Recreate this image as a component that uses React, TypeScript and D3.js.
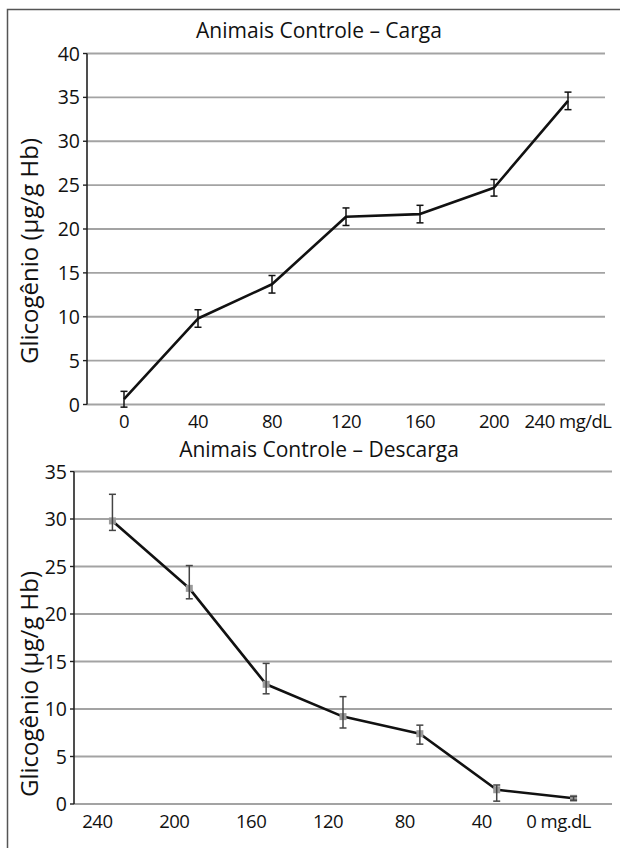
import { useEffect, useRef } from "react";
import { select, scaleBand, scaleLinear, line } from "d3";

// top chart: loading (carga)
const cargaCategories = ["0", "40", "80", "120", "160", "200", "240 mg/dL"];
const cargaValues = [0.6, 9.8, 13.7, 21.4, 21.7, 24.7, 34.6];
const cargaErrUp = [0.9, 1.0, 1.0, 1.0, 1.0, 0.95, 1.0];
const cargaErrDown = [0.9, 1.0, 1.0, 1.0, 1.0, 0.95, 1.0];
const cargaTicks = [0, 5, 10, 15, 20, 25, 30, 35, 40];

// bottom chart: unloading (descarga)
const descargaCategories = ["240", "200", "160", "120", "80", "40", "0 mg.dL"];
const descargaValues = [29.8, 22.7, 12.6, 9.2, 7.4, 1.5, 0.6];
const descargaErrUp = [2.8, 2.4, 2.2, 2.1, 0.9, 0.5, 0.2];
const descargaErrDown = [1.0, 1.1, 1.0, 1.2, 1.1, 1.2, 0.2];
const descargaTicks = [0, 5, 10, 15, 20, 25, 30, 35];

const W = 620;
const H = 848;
const FONT = "'Open Sans', 'DejaVu Sans', sans-serif";

function drawChart(svg, opts) {
    const {
        title,
        categories,
        values,
        errUp,
        errDown,
        ticks,
        left,
        right,
        top,
        bottom,
        titleY,
        axisTitleY,
        labelOffset,
        markers,
        errColor,
    } = opts;

    const g = svg.append("g");

    const x = scaleBand().domain(categories).range([left, right]);
    const y = scaleLinear()
        .domain([0, ticks[ticks.length - 1]])
        .range([bottom, top]);

    // gridlines
    g.selectAll(".grid")
        .data(ticks)
        .join("line")
        .attr("x1", left)
        .attr("x2", right)
        .attr("y1", (d) => y(d))
        .attr("y2", (d) => y(d))
        .attr("stroke", "#a3a3a3")
        .attr("stroke-width", 1.8);

    // y axis line + ticks
    g.append("line")
        .attr("x1", left)
        .attr("x2", left)
        .attr("y1", top)
        .attr("y2", bottom)
        .attr("stroke", "#222")
        .attr("stroke-width", 1.6);

    g.selectAll(".ytick")
        .data(ticks)
        .join("line")
        .attr("x1", left - 4)
        .attr("x2", left)
        .attr("y1", (d) => y(d))
        .attr("y2", (d) => y(d))
        .attr("stroke", "#222")
        .attr("stroke-width", 1.4);

    g.selectAll(".ylab")
        .data(ticks)
        .join("text")
        .attr("x", left - 7)
        .attr("y", (d) => y(d) + 7)
        .attr("text-anchor", "end")
        .attr("font-size", 19.5)
        .attr("font-weight", 500)
        .attr("fill", "#111")
        .style("font-family", FONT)
        .text((d) => d);

    // x labels
    g.selectAll(".xlab")
        .data(categories)
        .join("text")
        .attr("x", (d) => x(d) + x.bandwidth() / 2 + labelOffset)
        .attr("y", bottom + 23.5)
        .attr("text-anchor", "middle")
        .attr("font-size", 18.5)
        .attr("font-weight", 500)
        .attr("fill", "#111")
        .style("font-family", FONT)
        .style("letter-spacing", "-0.5px")
        .text((d) => d);

    // title
    g.append("text")
        .attr("x", 319)
        .attr("y", titleY)
        .attr("text-anchor", "middle")
        .attr("font-size", 21)
        .attr("font-weight", 500)
        .attr("fill", "#111")
        .style("font-family", FONT)
        .text(title);

    // y axis title
    g.append("text")
        .attr("transform", `translate(38, ${axisTitleY}) rotate(-90)`)
        .attr("text-anchor", "middle")
        .attr("font-size", 24)
        .attr("font-weight", 500)
        .attr("fill", "#111")
        .style("font-family", FONT)
        .text("Glicogênio (µg/g Hb)");

    const pts = categories.map((c, i) => ({
        cx: x(c) + x.bandwidth() / 2,
        v: values[i],
        up: values[i] + errUp[i],
        down: values[i] - errDown[i],
    }));

    // line
    const myLine = line()
        .x((d) => d.cx)
        .y((d) => y(d.v));

    g.append("path")
        .datum(pts)
        .attr("d", myLine)
        .attr("fill", "none")
        .attr("stroke", "#111")
        .attr("stroke-width", 2.6)
        .attr("stroke-linejoin", "round");

    // markers
    if (markers) {
        g.selectAll(".mark")
            .data(pts)
            .join("rect")
            .attr("x", (d) => d.cx - 3.5)
            .attr("y", (d) => y(d.v) - 3.5)
            .attr("width", 7)
            .attr("height", 7)
            .attr("fill", "#9a9a9a");
    }

    // error bars
    const eb = g.selectAll(".err").data(pts).join("g");
    eb.append("line")
        .attr("x1", (d) => d.cx)
        .attr("x2", (d) => d.cx)
        .attr("y1", (d) => y(d.up))
        .attr("y2", (d) => y(d.down))
        .attr("stroke", errColor)
        .attr("stroke-width", 1.5);
    eb.append("line")
        .attr("x1", (d) => d.cx - 3.5)
        .attr("x2", (d) => d.cx + 3.5)
        .attr("y1", (d) => y(d.up))
        .attr("y2", (d) => y(d.up))
        .attr("stroke", errColor)
        .attr("stroke-width", 1.5);
    eb.append("line")
        .attr("x1", (d) => d.cx - 3.5)
        .attr("x2", (d) => d.cx + 3.5)
        .attr("y1", (d) => y(d.down))
        .attr("y2", (d) => y(d.down))
        .attr("stroke", errColor)
        .attr("stroke-width", 1.5);
}

function App() {
    const svgRef = useRef(null);

    useEffect(() => {
        const svg = select(svgRef.current);
        svg.selectAll("*").remove();

        svg.append("rect")
            .attr("width", W)
            .attr("height", H)
            .attr("fill", "#fff");

        // frame (left and top edge visible)
        svg.append("path")
            .attr("d", `M7.5,${H} V9.5 H${W}`)
            .attr("fill", "none")
            .attr("stroke", "#555")
            .attr("stroke-width", 1.5);

        drawChart(svg, {
            title: "Animais Controle – Carga",
            categories: cargaCategories,
            values: cargaValues,
            errUp: cargaErrUp,
            errDown: cargaErrDown,
            ticks: cargaTicks,
            left: 87,
            right: 605,
            top: 53.5,
            bottom: 404.5,
            titleY: 38,
            axisTitleY: 251,
            labelOffset: 0,
            markers: false,
            errColor: "#111",
        });

        drawChart(svg, {
            title: "Animais Controle – Descarga",
            categories: descargaCategories,
            values: descargaValues,
            errUp: descargaErrUp,
            errDown: descargaErrDown,
            ticks: descargaTicks,
            left: 74,
            right: 612,
            top: 471.5,
            bottom: 804,
            titleY: 457,
            axisTitleY: 684,
            labelOffset: -15,
            markers: true,
            errColor: "#444",
        });
    }, []);

    return (
        <svg
            ref={svgRef}
            width={W}
            height={H}
            style={{ position: "absolute", left: 0, top: 0 }}
        ></svg>
    );
}

export default App;
